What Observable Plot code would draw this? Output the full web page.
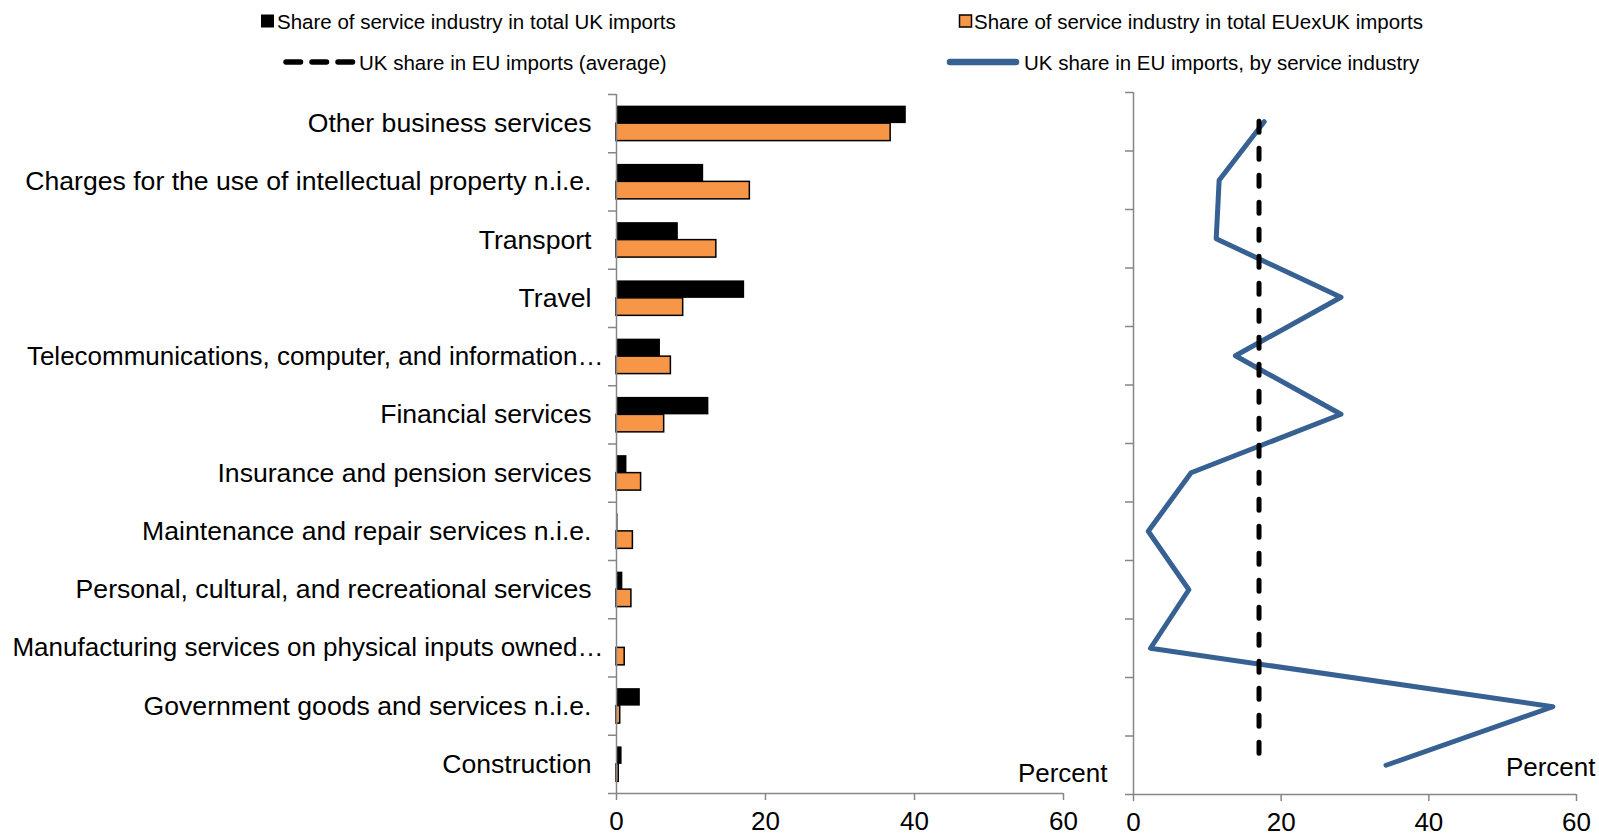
<!DOCTYPE html>
<html><head><meta charset="utf-8">
<script src="https://cdn.jsdelivr.net/npm/d3@7"></script>
<script src="https://cdn.jsdelivr.net/npm/@observablehq/plot@0.6"></script>
<style>
body{margin:0;background:#fff;font-family:"Liberation Sans",Arial,sans-serif;}
#wrap{position:relative;width:1599px;height:836px;overflow:hidden;background:#fff;}
#wrap svg{position:absolute;}
</style></head><body><div id="wrap"></div>
<script>
const categories = [
  "Other business services",
  "Charges for the use of intellectual property n.i.e.",
  "Transport",
  "Travel",
  "Telecommunications, computer, and information…",
  "Financial services",
  "Insurance and pension services",
  "Maintenance and repair services n.i.e.",
  "Personal, cultural, and recreational services",
  "Manufacturing services on physical inputs owned…",
  "Government goods and services n.i.e.",
  "Construction"
];
const ukImportShare = [38.9, 11.7, 8.3, 17.2, 5.9, 12.4, 1.4, 0.2, 0.85, 0.1, 3.2, 0.75];
const euImportShare = [36.8, 17.9, 13.4, 8.95, 7.3, 6.4, 3.3, 2.2, 2.0, 1.1, 0.5, 0.3];
const ukShareInEu = [17.7, 11.6, 11.2, 28.1, 13.8, 28.1, 7.8, 2.0, 7.5, 2.3, 56.8, 34.2];
const ukShareAverage = 17.0;
const xTicks = [0, 20, 40, 60];
const legendLabels = [
  "Share of service industry in total UK imports",
  "Share of service industry in total EUexUK imports",
  "UK share in EU imports (average)",
  "UK share in EU imports, by service industry"
];
const axisUnit = "Percent";
const truncatedLabels = [4, 9];

const n = categories.length;
const rows = categories.map((name, i) => ({name, i, uk: ukImportShare[i], eu: euImportShare[i], share: ukShareInEu[i]}));
const boundaries = d3.range(n + 1).map(i => i - 0.5);
const font = "Liberation Sans, Arial, sans-serif";
const gray = "#868686";
const orange = "#f79646";
const blue = "#386193";
const wrap = document.getElementById("wrap");

const left = Plot.plot({
  width: 1120, height: 751,
  marginLeft: 616, marginRight: 57, marginTop: 9, marginBottom: 43,
  style: {fontFamily: font, background: "transparent", overflow: "visible"},
  x: {domain: [0, 60]},
  y: {type: "linear", domain: [-0.5, n - 0.5], reverse: true},
  marks: [
    Plot.rectX(rows, {x1: 0, x2: "uk", y1: d => d.i - 0.3, y2: d => d.i, fill: "black"}),
    Plot.rectX(rows, {x1: 0, x2: "eu", y1: d => d.i, y2: d => d.i + 0.3, fill: orange, stroke: "black", strokeWidth: 1.5}),
    Plot.ruleX([0], {stroke: gray, strokeWidth: 1.5}),
    Plot.ruleY([n - 0.5], {stroke: gray, strokeWidth: 1.5}),
    Plot.axisY(boundaries, {tickSize: 8, stroke: gray, strokeWidth: 1.5, fill: "none", label: null}),
    Plot.axisY(d3.range(n).filter(i => !truncatedLabels.includes(i)), {tickSize: 0, tickPadding: 25, tickFormat: i => categories[i], fontSize: 26.6, fill: "black", label: null}),
    Plot.axisY(truncatedLabels, {tickSize: 0, tickPadding: 13, tickFormat: i => categories[i], fontSize: 26, fill: "black", label: null}),
    Plot.axisX(xTicks, {tickSize: 7, tickPadding: 11, stroke: gray, strokeWidth: 1.5, fill: "black", fontSize: 26, label: null}),
    Plot.text([axisUnit], {frameAnchor: "bottom-right", textAnchor: "end", lineAnchor: "middle", dx: 44, dy: -20, fontSize: 26, fill: "black"})
  ]
});
left.style.left = "0px"; left.style.top = "85px";

const right = Plot.plot({
  width: 499, height: 751,
  marginLeft: 33, marginRight: 23, marginTop: 7, marginBottom: 42,
  style: {fontFamily: font, background: "transparent", overflow: "visible"},
  x: {domain: [0, 60]},
  y: {type: "linear", domain: [-0.5, n - 0.5], reverse: true},
  marks: [
    Plot.ruleX([0], {stroke: gray, strokeWidth: 1.5}),
    Plot.ruleY([n - 0.5], {stroke: gray, strokeWidth: 1.5}),
    Plot.axisY(boundaries, {tickSize: 8, stroke: gray, strokeWidth: 1.5, fill: "none", label: null}),
    Plot.axisX(xTicks, {tickSize: 7, tickPadding: 11, stroke: gray, strokeWidth: 1.5, fill: "black", fontSize: 26, label: null}),
    Plot.line(rows, {x: "share", y: "i", stroke: blue, strokeWidth: 5, strokeLinecap: "round", strokeLinejoin: "round"}),
    Plot.ruleX([ukShareAverage], {y1: 0, y2: n - 1, stroke: "black", strokeWidth: 5, strokeDasharray: "11,16", strokeLinecap: "round"}),
    Plot.text([axisUnit], {frameAnchor: "bottom-right", textAnchor: "end", lineAnchor: "middle", dx: 19, dy: -27, fontSize: 26, fill: "black"})
  ]
});
right.style.left = "1100px"; right.style.top = "85px";

wrap.appendChild(left);
wrap.appendChild(right);

// Legend
const lg = d3.select(wrap).append("svg")
  .attr("width", 1599).attr("height", 85)
  .style("left", "0px").style("top", "0px")
  .style("font-family", font).style("font-size", "20.5px");
lg.append("rect").attr("x", 261).attr("y", 14.5).attr("width", 13).attr("height", 13).attr("fill", "black");
lg.append("text").attr("x", 277).attr("y", 28.5).text(legendLabels[0]);
lg.append("rect").attr("x", 959.5).attr("y", 15).attr("width", 12).attr("height", 12).attr("fill", orange).attr("stroke", "black").attr("stroke-width", 1.5);
lg.append("text").attr("x", 974).attr("y", 28.5).text(legendLabels[1]);
lg.append("line").attr("x1", 286).attr("x2", 354).attr("y1", 62).attr("y2", 62)
  .attr("stroke", "black").attr("stroke-width", 5.5).attr("stroke-linecap", "round").attr("stroke-dasharray", "14.5,11.5");
lg.append("text").attr("x", 359).attr("y", 69.5).text(legendLabels[2]);
lg.append("line").attr("x1", 950).attr("x2", 1016).attr("y1", 62).attr("y2", 62)
  .attr("stroke", blue).attr("stroke-width", 6.5).attr("stroke-linecap", "round");
lg.append("text").attr("x", 1024).attr("y", 69.5).text(legendLabels[3]);
</script></body></html>
